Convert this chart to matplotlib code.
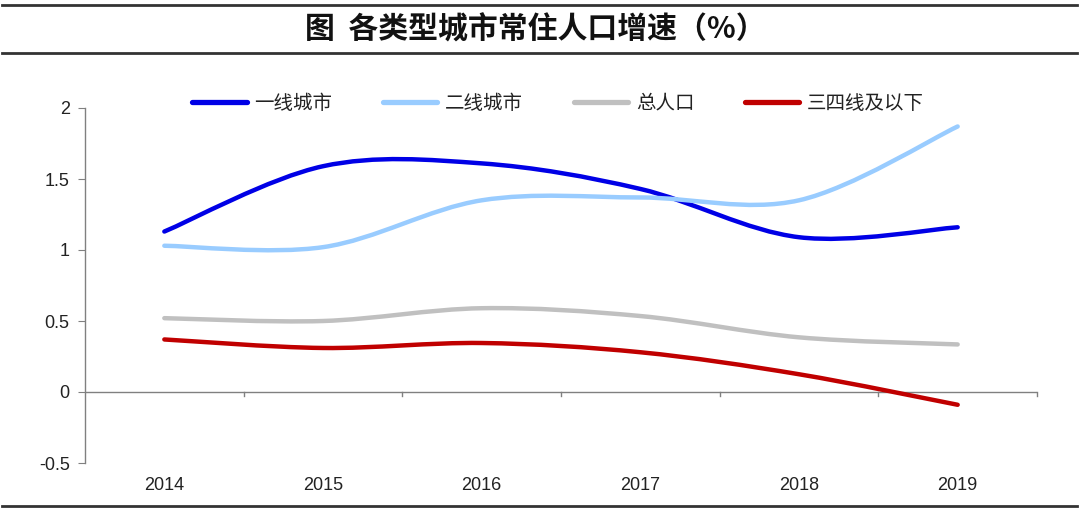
import numpy as np
import matplotlib
matplotlib.use("Agg")
import matplotlib.pyplot as plt
from matplotlib.path import Path
from matplotlib.patches import PathPatch
from matplotlib.lines import Line2D

plt.rcParams['font.family'] = ['Noto Sans CJK SC', 'DejaVu Sans']

years = ['2014', '2015', '2016', '2017', '2018', '2019']
tier1 = [1.13, 1.59, 1.61, 1.43, 1.09, 1.16]
tier2 = [1.03, 1.02, 1.35, 1.37, 1.35, 1.87]
total = [0.52, 0.50, 0.59, 0.535, 0.385, 0.335]
tier34 = [0.37, 0.31, 0.345, 0.28, 0.125, -0.09]

names = ['一线城市', '二线城市', '总人口', '三四线及以下']
colors = ['#0000E6', '#99CCFF', '#C0C0C0', '#C00000']
series = [tier1, tier2, total, tier34]


def smooth_path(xs, ys):
    # excel style smoothed line: catmull-rom as cubic bezier
    pts = np.column_stack([xs, ys]).astype(float)
    n = len(pts)
    verts = [pts[0]]
    codes = [Path.MOVETO]
    for i in range(n - 1):
        p0 = pts[i - 1] if i > 0 else pts[i]
        p1 = pts[i]
        p2 = pts[i + 1]
        p3 = pts[i + 2] if i + 2 < n else pts[i + 1]
        c1 = p1 + (p2 - p0) / 6.0
        c2 = p2 - (p3 - p1) / 6.0
        verts += [c1, c2, p2]
        codes += [Path.CURVE4] * 3
    return Path(verts, codes)


fig = plt.figure(figsize=(10.8, 5.12), dpi=100)
ax = fig.add_axes([85 / 1080, 1 - 463 / 512, (1037 - 85) / 1080, (463 - 108) / 512])

x = np.arange(len(years))
handles = []
for s, c, nm in zip(series, colors, names):
    patch = PathPatch(smooth_path(x, s), facecolor='none', edgecolor=c, lw=3.2,
                      capstyle='round', joinstyle='round', zorder=3)
    ax.add_patch(patch)
    handles.append(Line2D([], [], color=c, lw=3.8, solid_capstyle='round', label=nm))

ax.set_xlim(-0.5, len(years) - 0.5)
ax.set_ylim(-0.5, 2)
ax.set_yticks([-0.5, 0, 0.5, 1, 1.5, 2])
ax.set_yticklabels(['-0.5', '0', '0.5', '1', '1.5', '2'])

for sp in ['top', 'right', 'bottom']:
    ax.spines[sp].set_visible(False)
ax.spines['left'].set_color('#808080')
ax.spines['left'].set_linewidth(1.0)
ax.tick_params(axis='y', length=5, color='#808080', labelsize=13, pad=6)
for t in ax.get_yticklabels():
    t.set_fontfamily('Liberation Sans')
    t.set_color('#222222')

# category axis crossing at zero with ticks between categories
ax.axhline(0, color='#808080', lw=1.0, zorder=2)
for b in np.arange(0.5, len(years), 1.0):
    ax.plot([b, b], [0, -0.025], color='#808080', lw=1.0, clip_on=False)
ax.set_xticks(x)
ax.set_xticklabels(years)
ax.tick_params(axis='x', length=0, labelsize=13, pad=10)
for t in ax.get_xticklabels():
    t.set_fontfamily('Liberation Sans')
    t.set_color('#222222')

leg = ax.legend(handles=handles, ncol=4, loc='center', bbox_to_anchor=(0.497, 1.014),
                frameon=False, fontsize=14, handlelength=2.8, handletextpad=0.4,
                columnspacing=2.6)
for t in leg.get_texts():
    t.set_color('#222222')

# title and rules
fig.add_artist(Line2D([2 / 1080, 1077 / 1080], [1 - 5 / 512] * 2, color='#333333', lw=2.0))
fig.add_artist(Line2D([2 / 1080, 1077 / 1080], [1 - 53 / 512] * 2, color='#333333', lw=2.0))
fig.add_artist(Line2D([2 / 1080, 1077 / 1080], [1 - 506 / 512] * 2, color='#333333', lw=2.0))
fig.text(0.496, 1 - 30 / 512, '图  各类型城市常住人口增速（%）', ha='center', va='center',
         fontsize=21.5, fontweight='bold', color='#111111')

fig.savefig('out.png', dpi=100)
